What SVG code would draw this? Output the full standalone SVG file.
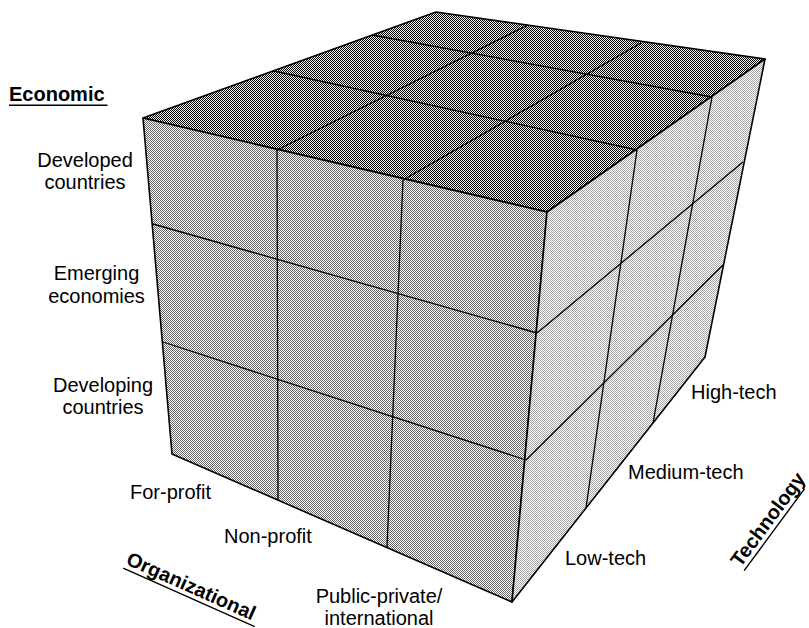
<svg xmlns="http://www.w3.org/2000/svg" width="809" height="628" viewBox="0 0 809 628">
  <defs>
    <!-- halftone-style fills for the three cube faces -->
    <pattern id="dotTop" x="0" y="0" width="2" height="2" patternUnits="userSpaceOnUse">
      <rect x="0" y="0" width="2" height="2" fill="#f2f2f2" shape-rendering="crispEdges"/>
      <rect x="0" y="0" width="1" height="1" fill="#000" shape-rendering="crispEdges"/>
      <rect x="1" y="1" width="1" height="1" fill="#000" shape-rendering="crispEdges"/>
    </pattern>
    <pattern id="dotFront" x="0" y="0" width="2" height="2" patternUnits="userSpaceOnUse">
      <rect x="0" y="0" width="2" height="2" fill="#fff" shape-rendering="crispEdges"/>
      <rect x="0" y="0" width="1" height="1" fill="#666" shape-rendering="crispEdges"/>
      <rect x="1" y="1" width="1" height="1" fill="#666" shape-rendering="crispEdges"/>
    </pattern>
    <pattern id="dotSide" x="0" y="0" width="2" height="2" patternUnits="userSpaceOnUse">
      <rect x="0" y="0" width="2" height="2" fill="#fff" shape-rendering="crispEdges"/>
      <rect x="0" y="0" width="1" height="1" fill="#a4a4a4" shape-rendering="crispEdges"/>
      <rect x="1" y="1" width="1" height="1" fill="#a4a4a4" shape-rendering="crispEdges"/>
    </pattern>
  </defs>
  <style>
    .face { stroke: #000; stroke-width: 1.6; stroke-linejoin: round; }
    .grid { stroke: #000; stroke-width: 1.3; fill: none; }
    .lbl { font-family: "Liberation Sans", Arial, sans-serif; font-size: 20px; fill: #000; }
    .axis { font-family: "Liberation Sans", Arial, sans-serif; font-size: 20px; font-weight: bold; fill: #000; }
    .uline { stroke: #000; stroke-width: 1.4; }
  </style>

  <rect width="809" height="628" fill="#fff"/>

  <!-- cube faces -->
  <g id="face-top">
    <polygon class="face" fill="url(#dotTop)" points="143,118 436,12 765,59 547,212"/>
  </g>
  <g id="face-front">
    <polygon class="face" fill="url(#dotFront)" points="143,118 547,212 512,602 172,454"/>
  </g>
  <g id="face-right">
    <polygon class="face" fill="url(#dotSide)" points="547,212 765,59 705,357 512,602"/>
  </g>

  <!-- 3x3 cell divisions on every face -->
  <g id="connectors">
    <line class="grid" x1="277" y1="150" x2="528" y2="25"/>
    <line class="grid" x1="403" y1="180" x2="641" y2="43"/>
    <line class="grid" x1="274" y1="71" x2="637" y2="150"/>
    <line class="grid" x1="372" y1="35" x2="712" y2="97"/>

    <line class="grid" x1="153" y1="224" x2="537" y2="333"/>
    <line class="grid" x1="163" y1="342" x2="526" y2="460"/>
    <line class="grid" x1="277" y1="150" x2="278" y2="500"/>
    <line class="grid" x1="403" y1="180" x2="387" y2="547"/>

    <line class="grid" x1="637" y1="150" x2="586" y2="508"/>
    <line class="grid" x1="712" y1="97" x2="653" y2="423"/>
    <line class="grid" x1="537" y1="333" x2="743" y2="162"/>
    <line class="grid" x1="526" y1="460" x2="723" y2="265"/>
  </g>

  <!-- economic axis -->
  <g id="axis-economic">
    <text class="axis" x="9" y="100.5">Economic</text>
    <line class="uline" x1="9" y1="105.3" x2="107.5" y2="105.3"/>
  </g>
  <g id="econ-developed">
    <text class="lbl" text-anchor="middle" x="85" y="166.5">Developed</text>
    <text class="lbl" text-anchor="middle" x="85" y="189">countries</text>
  </g>
  <g id="econ-emerging">
    <text class="lbl" text-anchor="middle" x="96.5" y="280">Emerging</text>
    <text class="lbl" text-anchor="middle" x="96.5" y="302.5">economies</text>
  </g>
  <g id="econ-developing">
    <text class="lbl" text-anchor="middle" x="103" y="391.5">Developing</text>
    <text class="lbl" text-anchor="middle" x="103" y="414">countries</text>
  </g>

  <!-- organizational axis -->
  <g id="axis-organizational" transform="translate(125,564) rotate(24)">
    <text class="axis" x="0" y="0" font-size="20.7">Organizational</text>
    <line class="uline" x1="0" y1="4.5" x2="144" y2="4.5"/>
  </g>
  <g id="org-forprofit">
    <text class="lbl" x="130" y="499">For-profit</text>
  </g>
  <g id="org-nonprofit">
    <text class="lbl" x="224" y="543">Non-profit</text>
  </g>
  <g id="org-public">
    <text class="lbl" text-anchor="middle" x="379" y="603">Public-private/</text>
    <text class="lbl" text-anchor="middle" x="379" y="625">international</text>
  </g>

  <!-- technology axis -->
  <g id="axis-technology" transform="translate(740.5,568) rotate(-53.6)">
    <text class="axis" x="0" y="0" font-size="18">Technology</text>
    <line class="uline" x1="0" y1="4.5" x2="102" y2="4.5"/>
  </g>
  <g id="tech-low">
    <text class="lbl" x="565" y="565">Low-tech</text>
  </g>
  <g id="tech-medium">
    <text class="lbl" x="628" y="479">Medium-tech</text>
  </g>
  <g id="tech-high">
    <text class="lbl" x="691" y="399">High-tech</text>
  </g>
</svg>
